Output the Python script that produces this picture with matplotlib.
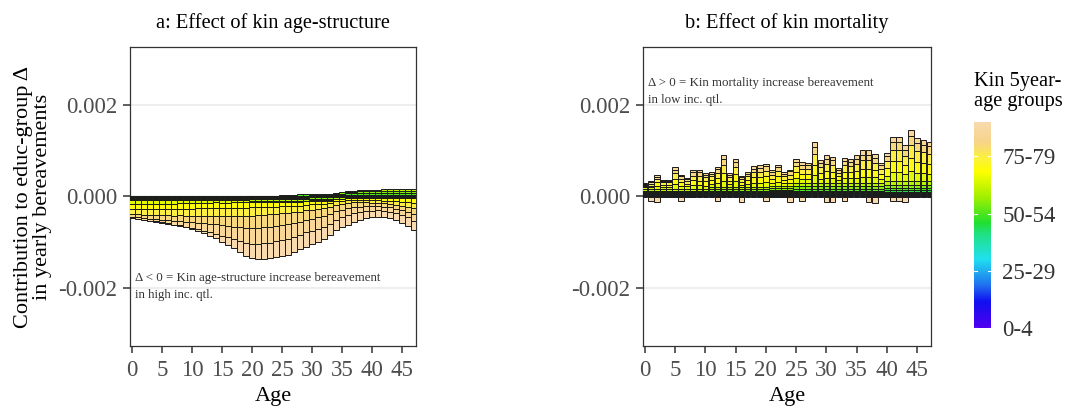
import numpy as np
import matplotlib
matplotlib.use("Agg")
import matplotlib.pyplot as plt
from matplotlib.colors import LinearSegmentedColormap, Normalize

# ---------------- data (values in units of 1e-5) ----------------
ages = list(range(48))
kin_groups = ["0-4", "5-9", "10-14", "15-19", "20-24", "25-29", "30-34", "35-39",
              "40-44", "45-49", "50-54", "55-59", "60-64", "65-69", "70-74",
              "75-79", "80-84", "85-89", "90-94"]
legend_labels = ["0-4", "25-29", "50-54", "75-79"]
x_ticks = [0, 5, 10, 15, 20, 25, 30, 35, 40, 45]
y_ticks = [-0.002, 0.0, 0.002]
y_ticklabels = ["-0.002", "0.000", "0.002"]

# panel a: effect of kin age-structure
a_g5 = [0, 0, 0, 0, 0, 0, 0, 0, 0, 0, 0, 0, 0, 0, 0, 0, 0, 0, 0, 0,
        1, 1, 1, 1, 1, 1, 1, 1, 1, 1, 1, 1, 1, 1, 1, 1, 1, 1, 1, 1,
        1, 1, 1, 1, 1, 1, 1, 1]
a_g6 = [-1] * 48
a_g7 = [0, 0, 0, 0, 0, 0, 0, 0, 0, 0, 0, 0, 0, 0, 0, 0, 0, 0, 0, 0,
        1, 1, 1, 1, 1, 1, 1, 1, 1, 1, 1, 1, 1, 1, 1, 1, 1, 1, 1, 1,
        1, 1, 1, 1, 1, 1, 1, 1]
a_g8 = [-1] * 48
a_g9 = [-1, -1, -1, -1, -1, -1, -1, -1, -1, -1, -1, -1, -1, -1, -1, -1, -1, -1, -1, -1,
        -1, -1, -1, -1, -1, -1, -1, -1, -1, -1, 1, 1, 1, 1, 1, 1, 1, 1, 1, 1,
        1, 1, 1, 1, 1, 1, 1, 1]
a_g10 = [-1, -1, -1, -1, -1, -1, -1, -1, -1, -1, -1, -1, -1, -1, -1, -1, -1, -1, -1, -1,
         -1, -1, -1, -1, -1, 2, 2, 2, 3, 3, 3, 3, 3, 3, 3, 3, 4, 4, 4, 4,
         4, 4, 4, 4, 4, 4, 4, 4]
a_g11 = [-1, -1, -1, -1, -1, -1, -1, -1, -1, -1, -1, -1, -1, -1, -1, -2, -2, -2, -2, -2,
         -2, -2, -2, -2, -2, -3, -3, -3, -3, -3, -3, -3, -3, -3, 2, 3, 3, 3, 4, 4,
         4, 4, 4, 4, 4, 4, 4, 4]
a_g12 = [-2, -2, -2, -2, -2, -2, -2, -2, -2, -2, -2, -2, -2, -2, -2, -2, -2, -2, -2, -2,
         -3, -3, -3, -3, -3, -3, -3, -3, -3, -3, -3, -3, -3, -3, -3, -3, 2, 2, 3, 3,
         4, 4, 5, 5, 5, 5, 5, 5]
a_g13 = [-9, -9, -9, -9, -9, -9, -9, -9, -8, -8, -8, -7, -7, -7, -6, -6, -6, -5, -5, -5,
         -4, -4, -4, -4, -3, -3, -3, -3, -3, -2, -2, -2, -2, -2, -1, -1, -1, -1, -1, -1,
         -1, -1, -1, -1, -1, -1, -1, -1]
a_g14 = [-12, -12, -12, -12, -12, -12, -12, -12, -12, -12, -12, -12, -12, -12, -12, -12,
         -12, -12, -12, -12, -11, -11, -10, -10, -10, -9, -9, -8, -8, -7, -7, -6, -6, -5,
         -5, -4, -4, -4, -4, -4, -5, -5, -6, -7, -8, -9, -10, -11]
a_g15 = [-11, -11, -12, -12, -13, -13, -13, -14, -14, -15, -15, -16, -16, -16, -17, -17,
         -17, -18, -18, -18, -18, -17, -17, -16, -16, -15, -15, -14, -13, -12, -12, -11,
         -10, -9, -8, -7, -7, -6, -6, -6, -6, -6, -6, -7, -8, -9, -10, -12]
a_g16 = [-7, -7, -8, -9, -9, -10, -11, -12, -13, -14, -15, -16, -17, -18, -19, -20, -22,
         -23, -25, -27, -28, -28, -28, -27, -26, -26, -25, -24, -22, -21, -20, -19, -17,
         -15, -13, -12, -11, -10, -9, -8, -7, -7, -7, -7, -8, -9, -10, -12]
a_g17 = [-2, -3, -3, -4, -4, -6, -7, -8, -9, -10, -12, -14, -16, -18, -21, -23, -25, -27,
         -30, -33, -34, -35, -35, -35, -34, -34, -33, -31, -29, -28, -26, -25, -23, -21,
         -19, -17, -16, -14, -12, -11, -10, -9, -9, -9, -9, -11, -13, -15]
a_g18 = [0, 0, 0, 0, -1, -1, -1, -1, -2, -2, -3, -4, -6, -8, -10, -13, -16, -20, -24, -28,
         -32, -34, -35, -35, -35, -35, -34, -33, -32, -31, -30, -29, -27, -25, -23, -22,
         -21, -20, -18, -16, -15, -15, -15, -15, -16, -17, -19, -21]

# panel b: effect of kin mortality
b_g1 = [-1] * 48
b_g3 = [2] * 48
b_g4 = [1] * 48
b_g5 = [2] * 48
b_g7 = [1, 1, 1, 1, 1, 1, 1, 1, 1, 1, 1, 1, 1, 1, 1, 1, 1, 1, 1, 1, 1, 3, 3, 3, 3, 3, 3,
        3, 3, 3, 3, 3, 3, 3, 3, 3, 3, 3, 3, 3, 3, 3, 3, 3, 3, 3, 3, 3]
b_g8 = [1] * 48
b_g9 = [2, 2, 2, 2, 2, 2, 2, 2, 2, 2, 2, 3, 3, 3, 3, 3, 3, 3, 3, 3, 3, 3, 3, 3, 3, 4, 4,
        4, 4, 4, 4, 4, 4, 4, 4, 4, 4, 4, 4, 4, 5, 5, 5, 5, 5, 5, 5, 5]
b_g10 = [2, 2, 2, 2, 2, 2, 2, 2, 2, 2, 2, 3, 3, 3, 3, 3, 3, 3, 3, 3, 3, 3, 3, 3, 3, 4, 4,
         4, 4, 4, 4, 4, 4, 4, 4, 4, 4, 4, 4, 4, 5, 5, 5, 5, 5, 5, 5, 5]
b_g11 = [2, 2, 2, 2, 2, 2, 2, 2, 2, 2, 2, 3, 3, 3, 3, 3, 3, 3, 3, 3, 3, 3, 3, 3, 3, 5, 5,
         5, 5, 5, 5, 5, 5, 5, 5, 5, 5, 5, 5, 5, 6, 6, 6, 6, 6, 6, 6, 6]
b_g12 = [4, 4, 4, 4, 4, 4, 4, 4, 4, 4, 4, 5, 5, 5, 5, 5, 5, 5, 5, 5, 5, 5, 5, 5, 5, 7, 7,
         7, 7, 7, 7, 7, 7, 7, 7, 7, 7, 7, 7, 7, 8, 8, 8, 8, 8, 8, 8, 8]
b_g13 = [3, 3, 6, 4, 4, 10, 6, 5, 8, 8, 7, 7, 9, 14, 6, 12, 5, 7, 9, 9, 10, 7, 9, 6, 7,
         11, 9, 9, 18, 10, 12, 11, 7, 11, 11, 12, 14, 14, 13, 9, 13, 20, 20, 16, 23, 19,
         18, 17]
b_g14 = [3, 4, 8, 5, 5, 12, 8, 6, 11, 10, 9, 8, 11, 17, 8, 16, 6, 8, 12, 12, 13, 9, 12, 8,
         9, 13, 12, 11, 23, 13, 16, 14, 8, 14, 13, 16, 18, 18, 16, 11, 16, 24, 25, 20, 28,
         24, 23, 22]
b_g15 = [3, 4, 7, 5, 5, 12, 8, 6, 10, 10, 9, 8, 11, 17, 8, 15, 6, 8, 11, 12, 13, 9, 12, 8,
         9, 13, 11, 11, 23, 12, 15, 14, 8, 14, 13, 15, 18, 18, 16, 11, 16, 25, 24, 20, 28,
         24, 23, 22]
b_g16 = [2, 3, 5, 4, 3, 8, 5, 4, 8, 8, 6, 6, 8, 13, 5, 11, 5, 6, 8, 8, 9, 6, 8, 5, 7, 10,
         8, 8, 16, 9, 11, 11, 6, 10, 10, 11, 13, 13, 11, 8, 11, 18, 17, 14, 20, 17, 16, 16]
b_g17 = [2, 3, 4, 2, 3, 6, 4, 3, 5, 5, 4, 4, 5, 9, 4, 8, 3, 4, 6, 6, 6, 4, 6, 4, 4, 6, 6,
         6, 11, 6, 8, 7, 4, 6, 6, 8, 9, 9, 8, 5, 7, 11, 12, 10, 14, 11, 11, 10]
b_g18 = [0, -10, -12, 0, 0, 0, -10, 0, 0, 0, 0, 0, -10, 0, 0, 0, -12, 0, 0, 0, -8, 0, 0, 0,
         -12, 0, -10, 0, 0, 0, -12, -12, 0, -8, 0, 0, 0, -12, -14, 0, 0, -10, -10, -12, 0,
         0, 0, 0]

UNIT = 1e-5

panel_a = {5: a_g5, 6: a_g6, 7: a_g7, 8: a_g8, 9: a_g9, 10: a_g10, 11: a_g11,
           12: a_g12, 13: a_g13, 14: a_g14, 15: a_g15, 16: a_g16, 17: a_g17, 18: a_g18}
panel_b = {1: b_g1, 3: b_g3, 4: b_g4, 5: b_g5, 7: b_g7, 8: b_g8,
           9: b_g9, 10: b_g10, 11: b_g11, 12: b_g12, 13: b_g13, 14: b_g14, 15: b_g15,
           16: b_g16, 17: b_g17, 18: b_g18}

# ---------------- style ----------------
plt.rcParams['font.family'] = ['Liberation Serif', 'DejaVu Serif']
cmap = LinearSegmentedColormap.from_list("kin", [
    (0.0, "#5000F0"), (0.127, "#1010F0"), (0.206, "#2070F0"), (0.333, "#20E0F0"),
    (0.46, "#20E080"), (0.51, "#20E030"), (0.635, "#A0F000"), (0.76, "#FFFF00"),
    (0.83, "#FCF040"), (0.9, "#F7D488"), (1.0, "#F9DAAE")])
norm = Normalize(vmin=0, vmax=len(kin_groups) - 1)

fig = plt.figure(figsize=(10.89, 4.07), dpi=100)
ax_a = fig.add_axes([0.1194, 0.150, 0.2626, 0.7345])
ax_b = fig.add_axes([0.5904, 0.150, 0.2646, 0.7345])
cax = fig.add_axes([0.8944, 0.194, 0.0156, 0.506])

YL = 0.00328


def draw_panel(ax, groups, title):
    x = np.array(ages)
    pos = np.zeros(len(ages))
    neg = np.zeros(len(ages))
    for k in sorted(groups):
        v = np.array(groups[k], dtype=float) * UNIT
        col = cmap(norm(k))
        mp = v > 0
        mn = v < 0
        if mp.any():
            ax.bar(x[mp], v[mp], bottom=pos[mp], width=0.9, color=col,
                   edgecolor="#1a1a1a", linewidth=0.7, zorder=3)
        if mn.any():
            ax.bar(x[mn], v[mn], bottom=neg[mn], width=0.9, color=col,
                   edgecolor="#1a1a1a", linewidth=0.7, zorder=3)
        pos += np.where(mp, v, 0)
        neg += np.where(mn, v, 0)
    ax.set_xlim(-0.3, 47.3)
    ax.set_ylim(-YL, YL)
    ax.set_yticks(y_ticks)
    ax.set_yticklabels(y_ticklabels)
    ax.set_xticks(x_ticks)
    for yv in y_ticks:
        ax.axhline(yv, color="#EBEBEB", linewidth=1.2, zorder=1)
    ax.tick_params(axis="both", labelsize=16.5, labelcolor="#4D4D4D", color="#333333",
                   length=5, width=1.1, pad=4)
    ax.tick_params(axis="x", pad=5)
    for s in ax.spines.values():
        s.set_color("#333333")
        s.set_linewidth(0.9)
    ax.set_xlabel("Age", fontsize=16, labelpad=4.5)
    ax.set_title(title, fontsize=14.7, pad=14)


draw_panel(ax_a, panel_a, "a: Effect of kin age-structure")
draw_panel(ax_b, panel_b, "b: Effect of kin mortality")

ax_a.set_ylabel("Contribution to educ-group \u0394\nin yearly bereavements",
                fontsize=16, linespacing=1.0, labelpad=5)

ax_a.text(0.6, -0.00198,
          "\u0394 < 0 = Kin age-structure increase bereavement\nin high inc. qtl.",
          fontsize=9.3, color="#333333", ha="left", va="center", linespacing=1.5)
ax_b.text(0.5, 0.0023,
          "\u0394 > 0 = Kin mortality increase bereavement\nin low inc. qtl.",
          fontsize=9.3, color="#333333", ha="left", va="center", linespacing=1.5)

# colour bar
grad = np.linspace(0, len(kin_groups) - 1, 256).reshape(-1, 1)
cax.imshow(grad, aspect="auto", cmap=cmap, norm=norm, origin="lower",
           extent=[0, 1, 0, len(kin_groups) - 1])
cax.set_xlim(0, 1)
cax.set_ylim(0, len(kin_groups) - 1)
cax.set_xticks([])
tick_pos = [kin_groups.index(l) for l in legend_labels]
cax.yaxis.tick_right()
cax.set_yticks(tick_pos)
cax.set_yticklabels(legend_labels)
cax.tick_params(axis="y", length=0, pad=8, labelsize=16.5, labelcolor="#333333")
for t in tick_pos:
    cax.plot([0, 0.2], [t, t], color="white", linewidth=0.8)
    cax.plot([0.8, 1], [t, t], color="white", linewidth=0.8)
for s in cax.spines.values():
    s.set_visible(False)
fig.text(0.8944, 0.775, "Kin 5year-\nage groups", fontsize=14.7, ha="left", va="center",
         linespacing=1.1)

fig.savefig("out.png", dpi=100)
